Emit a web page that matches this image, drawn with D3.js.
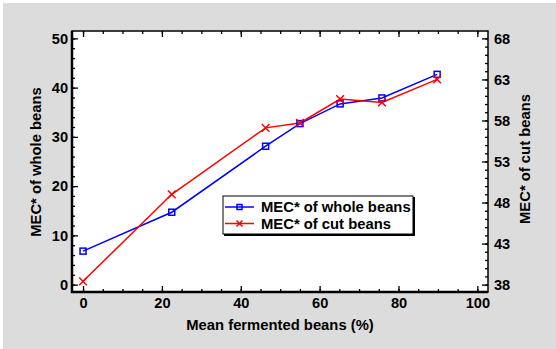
<!DOCTYPE html>
<html>
<head>
<meta charset="utf-8">
<script src="https://cdn.jsdelivr.net/npm/d3@7"></script>
<style>
  body { margin: 0; background: #fff; }
  svg text { font-family: "Liberation Sans", Arial, sans-serif; font-weight: bold; fill: #000; }
</style>
</head>
<body>
<svg id="chart" width="556" height="349"></svg>
<script>
// x values: mean fermented beans (%)
const fermented = [0, 22.5, 46.3, 55.0, 65.2, 75.8, 89.8];
// MEC* of whole beans (left axis)
const wholeBeans = [6.8, 14.7, 28.1, 32.7, 36.7, 37.9, 42.7];
// MEC* of cut beans (right axis)
const cutBeans = [38.4, 49.0, 57.1, 57.7, 60.6, 60.2, 63.0];

const xTicks = [0, 20, 40, 60, 80, 100];
const leftTicks = [0, 10, 20, 30, 40, 50];
const rightTicks = [38, 43, 48, 53, 58, 63, 68];

const svg = d3.select('#chart');
const plot = { left: 72, top: 31, right: 488, bottom: 292 };

svg.append('rect')
    .attr('x', 3).attr('y', 3)
    .attr('width', 553).attr('height', 346)
    .attr('fill', '#dcdcdc');

svg.append('rect')
    .attr('x', plot.left).attr('y', plot.top)
    .attr('width', plot.right - plot.left).attr('height', plot.bottom - plot.top)
    .attr('fill', '#fff');

const x = d3.scaleLinear().domain([-2.8, 102.7]).range([plot.left, plot.right]);
const yL = d3.scaleLinear().domain([-1.5, 51.5]).range([plot.bottom, plot.top]);
const yR = d3.scaleLinear().domain([37.1, 68.9]).range([plot.bottom, plot.top]);

function styleAxis(g) {
    g.select('.domain').remove();
    g.selectAll('line').attr('stroke', '#000').attr('stroke-width', 1.3);
    g.selectAll('text').style('font-size', '14.6px');
}

// minor ticks
svg.append('g').attr('transform', `translate(0,${plot.bottom})`)
    .call(d3.axisBottom(x).tickValues(d3.range(0, 101, 5)).tickSize(-3).tickFormat(''))
    .call(styleAxis);
svg.append('g').attr('transform', `translate(0,${plot.top})`)
    .call(d3.axisTop(x).tickValues(d3.range(0, 101, 5)).tickSize(-3).tickFormat(''))
    .call(styleAxis);
svg.append('g').attr('transform', `translate(${plot.left},0)`)
    .call(d3.axisLeft(yL).tickValues(d3.range(0, 51, 2)).tickSize(-3).tickFormat(''))
    .call(styleAxis);
svg.append('g').attr('transform', `translate(${plot.right},0)`)
    .call(d3.axisRight(yR).tickValues(d3.range(38, 69, 1)).tickSize(-3).tickFormat(''))
    .call(styleAxis);

// major ticks + labels
svg.append('g').attr('transform', `translate(0,${plot.bottom})`)
    .call(d3.axisBottom(x).tickValues(xTicks).tickSize(-6).tickPadding(6))
    .call(styleAxis);
svg.append('g').attr('transform', `translate(0,${plot.top})`)
    .call(d3.axisTop(x).tickValues(xTicks).tickSize(-6).tickFormat(''))
    .call(styleAxis);
svg.append('g').attr('transform', `translate(${plot.left},0)`)
    .call(d3.axisLeft(yL).tickValues(leftTicks).tickSize(-6).tickPadding(4))
    .call(styleAxis);
svg.append('g').attr('transform', `translate(${plot.right},0)`)
    .call(d3.axisRight(yR).tickValues(rightTicks).tickSize(-6).tickPadding(6))
    .call(styleAxis);

// frame
svg.append('rect')
    .attr('x', plot.left).attr('y', plot.top)
    .attr('width', plot.right - plot.left).attr('height', plot.bottom - plot.top)
    .attr('fill', 'none').attr('stroke', '#000').attr('stroke-width', 1.5);
svg.append('path')
    .attr('d', `M${plot.left},${plot.top}V${plot.bottom}H${plot.right}`)
    .attr('fill', 'none').attr('stroke', '#000').attr('stroke-width', 2.5);

// series
const whole = fermented.map((f, i) => ({ x: f, y: wholeBeans[i] }));
const cut = fermented.map((f, i) => ({ x: f, y: cutBeans[i] }));

svg.append('path').datum(whole)
    .attr('fill', 'none').attr('stroke', '#0000ff').attr('stroke-width', 1.5)
    .attr('d', d3.line().x(d => x(d.x)).y(d => yL(d.y)));
svg.append('path').datum(cut)
    .attr('fill', 'none').attr('stroke', '#ff0000').attr('stroke-width', 1.5)
    .attr('d', d3.line().x(d => x(d.x)).y(d => yR(d.y)));

svg.selectAll('.sq').data(whole).enter().append('rect')
    .attr('class', 'sq')
    .attr('x', d => x(d.x) - 3).attr('y', d => yL(d.y) - 3)
    .attr('width', 6).attr('height', 6)
    .attr('fill', 'none').attr('stroke', '#0000ff').attr('stroke-width', 1.5);

const cross = d3.symbol().type(d3.symbolX).size(40);
svg.selectAll('.cx').data(cut).enter().append('path')
    .attr('class', 'cx')
    .attr('transform', d => `translate(${x(d.x)},${yR(d.y)})`)
    .attr('d', cross)
    .attr('fill', 'none').attr('stroke', '#ff0000').attr('stroke-width', 1.5);

// axis titles
svg.append('text')
    .attr('x', 280).attr('y', 330)
    .attr('text-anchor', 'middle').style('font-size', '14.8px')
    .text('Mean fermented beans (%)');
svg.append('text')
    .attr('transform', 'translate(41,162) rotate(-90)')
    .attr('text-anchor', 'middle').style('font-size', '14.8px')
    .text('MEC* of whole beans');
svg.append('text')
    .attr('transform', 'translate(530,159) rotate(-90)')
    .attr('text-anchor', 'middle').style('font-size', '14.8px')
    .text('MEC* of cut beans');

// legend
const lg = svg.append('g').attr('transform', 'translate(223,196)');
lg.append('rect').attr('x', 1).attr('y', 1).attr('width', 191).attr('height', 39).attr('fill', '#000');
lg.append('rect').attr('x', 0).attr('y', 0).attr('width', 190).attr('height', 38)
    .attr('fill', '#fff').attr('stroke', '#000').attr('stroke-width', 1);

const legendItems = [
    { name: 'MEC* of whole beans', color: '#0000ff', kind: 'sq' },
    { name: 'MEC* of cut beans', color: '#ff0000', kind: 'x' }
];
legendItems.forEach((it, i) => {
    const cy = 11 + i * 16.5;
    lg.append('line').attr('x1', 2).attr('x2', 31).attr('y1', cy).attr('y2', cy)
        .attr('stroke', it.color).attr('stroke-width', 1.5);
    if (it.kind === 'sq') {
        lg.append('rect').attr('x', 14).attr('y', cy - 2.5).attr('width', 5).attr('height', 5)
            .attr('fill', 'none').attr('stroke', it.color).attr('stroke-width', 1.5);
    } else {
        lg.append('path').attr('transform', `translate(16.5,${cy})`)
            .attr('d', d3.symbol().type(d3.symbolX).size(25))
            .attr('fill', 'none').attr('stroke', it.color).attr('stroke-width', 1.5);
    }
    lg.append('text').attr('x', 38).attr('y', cy + 5).style('font-size', '14.8px').text(it.name);
});
</script>
</body>
</html>
